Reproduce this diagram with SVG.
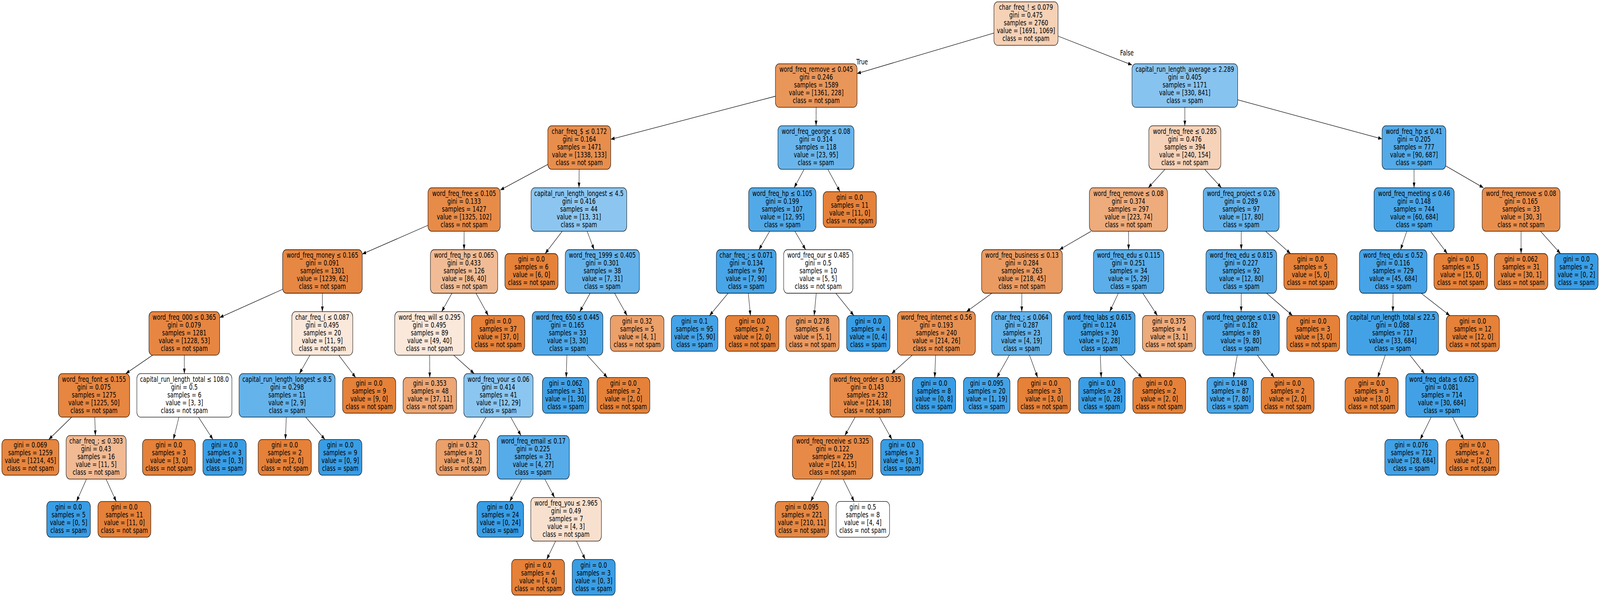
<svg xmlns="http://www.w3.org/2000/svg" width="5565" height="1529" viewBox="0 0 5565 1529" preserveAspectRatio="none">
<style>
svg{width:100vw;height:100vh}
.n rect{stroke:#000;stroke-width:1.3}
text{font-family:"DejaVu Sans","Liberation Sans",sans-serif;font-size:18.9px;text-anchor:middle;fill:#000}
#edges line{stroke:#000;stroke-width:1.3;marker-end:url(#arr)}
</style>
<defs>
<marker id="arr" markerUnits="userSpaceOnUse" viewBox="0 0 14 9.4" markerWidth="14" markerHeight="9.4" refX="13.3" refY="4.7" orient="auto">
<path d="M0,0 L13.3,4.7 L0,9.4 z" fill="#000"/>
</marker>
</defs>
<rect width="5565" height="1529" fill="#fff"/>
<g id="edges">
<line x1="3457" y1="84.7" x2="2981" y2="188.3"/>
<line x1="3680" y1="92.5" x2="3937.3" y2="166.4"/>
<line x1="2697" y1="246.5" x2="2124.3" y2="356.8"/>
<line x1="2838.6" y1="274.9" x2="2838.4" y2="322.1"/>
<line x1="1905.3" y1="421.2" x2="1740" y2="486.7"/>
<line x1="2014.3" y1="433.6" x2="2013.9" y2="480.8"/>
<line x1="1488.6" y1="577" x2="1260" y2="650.7"/>
<line x1="1614.2" y1="592.3" x2="1614.1" y2="639.5"/>
<line x1="983" y1="741" x2="764" y2="813.3"/>
<line x1="1121.3" y1="751" x2="1121.2" y2="798.2"/>
<line x1="530.7" y1="909.7" x2="437.3" y2="956.9"/>
<line x1="641.1" y1="909.7" x2="641.2" y2="956.9"/>
<line x1="249.3" y1="1068.4" x2="169.5" y2="1125.6"/>
<line x1="329.6" y1="1068.4" x2="331.8" y2="1115.6"/>
<line x1="300.7" y1="1227.1" x2="266.2" y2="1284.3"/>
<line x1="368.9" y1="1227.1" x2="404.3" y2="1284.3"/>
<line x1="622.4" y1="1068.4" x2="603.1" y2="1125.6"/>
<line x1="690.4" y1="1068.4" x2="740.7" y2="1125.6"/>
<line x1="1078" y1="909.7" x2="1041.5" y2="956.9"/>
<line x1="1178.3" y1="909.7" x2="1237" y2="966.9"/>
<line x1="995.7" y1="1068.4" x2="992.7" y2="1125.6"/>
<line x1="1063.5" y1="1068.4" x2="1130.1" y2="1125.6"/>
<line x1="1571.8" y1="751" x2="1536.2" y2="798.2"/>
<line x1="1655.6" y1="751" x2="1698.3" y2="808.2"/>
<line x1="1494.4" y1="909.7" x2="1494.7" y2="966.9"/>
<line x1="1578.2" y1="909.7" x2="1649.4" y2="956.9"/>
<line x1="1690" y1="1068.4" x2="1645.4" y2="1125.6"/>
<line x1="1776.2" y1="1068.4" x2="1812.2" y2="1115.6"/>
<line x1="1814.5" y1="1227.1" x2="1773.1" y2="1284.3"/>
<line x1="1894.9" y1="1227.1" x2="1928.9" y2="1274.3"/>
<line x1="1932.4" y1="1385.8" x2="1901.5" y2="1432.8"/>
<line x1="2005" y1="1385.8" x2="2035.4" y2="1432.8"/>
<line x1="1955.5" y1="592.3" x2="1896.1" y2="649.5"/>
<line x1="2042.1" y1="592.3" x2="2066.4" y2="639.5"/>
<line x1="2052.5" y1="751" x2="2016.5" y2="798.2"/>
<line x1="2137.5" y1="751" x2="2181.1" y2="808.2"/>
<line x1="1971.7" y1="909.7" x2="1969.4" y2="966.9"/>
<line x1="2042.3" y1="909.7" x2="2112.4" y2="966.9"/>
<line x1="2796.9" y1="433.6" x2="2762.1" y2="480.8"/>
<line x1="2879.3" y1="433.6" x2="2921.6" y2="490.8"/>
<line x1="2676.9" y1="592.3" x2="2639.6" y2="639.5"/>
<line x1="2764.9" y1="592.3" x2="2802.1" y2="639.5"/>
<line x1="2532.4" y1="751" x2="2467.8" y2="808.2"/>
<line x1="2602.7" y1="751" x2="2610.1" y2="808.2"/>
<line x1="2839" y1="751" x2="2831.8" y2="808.2"/>
<line x1="2907.1" y1="751" x2="2969.8" y2="808.2"/>
<line x1="4121" y1="274.9" x2="4121" y2="322.1"/>
<line x1="4304.8" y1="255.7" x2="4807" y2="355.8"/>
<line x1="4052.2" y1="433.6" x2="3993.9" y2="480.8"/>
<line x1="4189.9" y1="433.6" x2="4248.2" y2="480.8"/>
<line x1="3794.9" y1="592.3" x2="3684.7" y2="639.5"/>
<line x1="3925.2" y1="592.3" x2="3925.3" y2="639.5"/>
<line x1="3450" y1="751" x2="3361.5" y2="798.2"/>
<line x1="3554.1" y1="751" x2="3553.8" y2="798.2"/>
<line x1="3172.6" y1="909.7" x2="3101.1" y2="956.9"/>
<line x1="3254.1" y1="909.7" x2="3251.1" y2="966.9"/>
<line x1="2974.3" y1="1068.4" x2="2938.4" y2="1115.6"/>
<line x1="3059" y1="1068.4" x2="3102.3" y2="1125.6"/>
<line x1="2858.4" y1="1227.1" x2="2819.9" y2="1284.3"/>
<line x1="2932.9" y1="1227.1" x2="2970.7" y2="1284.3"/>
<line x1="3510.8" y1="909.7" x2="3467" y2="966.9"/>
<line x1="3580.9" y1="909.7" x2="3609.1" y2="966.9"/>
<line x1="3889.8" y1="751" x2="3859.7" y2="798.2"/>
<line x1="3974.9" y1="751" x2="4025.5" y2="808.2"/>
<line x1="3827" y1="909.7" x2="3830.1" y2="966.9"/>
<line x1="3897.1" y1="909.7" x2="3972" y2="966.9"/>
<line x1="4317.2" y1="592.3" x2="4317.3" y2="639.5"/>
<line x1="4401.7" y1="592.3" x2="4488.5" y2="649.5"/>
<line x1="4317.2" y1="751" x2="4316.9" y2="798.2"/>
<line x1="4405.3" y1="751" x2="4495.4" y2="808.2"/>
<line x1="4303.3" y1="909.7" x2="4289.8" y2="966.9"/>
<line x1="4373.4" y1="909.7" x2="4431.8" y2="966.9"/>
<line x1="4918.2" y1="433.6" x2="4918.3" y2="480.8"/>
<line x1="5029" y1="425.1" x2="5159.6" y2="480.8"/>
<line x1="4892.9" y1="592.3" x2="4871.3" y2="639.5"/>
<line x1="4975.4" y1="592.3" x2="5033.8" y2="649.5"/>
<line x1="4845.1" y1="751" x2="4844.6" y2="798.2"/>
<line x1="4942.9" y1="751" x2="5042.7" y2="808.2"/>
<line x1="4818.2" y1="909.7" x2="4791.8" y2="966.9"/>
<line x1="4904.1" y1="909.7" x2="4954.9" y2="956.9"/>
<line x1="4977.8" y1="1068.4" x2="4939.6" y2="1125.6"/>
<line x1="5052.4" y1="1068.4" x2="5090.8" y2="1125.6"/>
<line x1="5290.5" y1="592.3" x2="5290.5" y2="649.5"/>
<line x1="5358.1" y1="592.3" x2="5427.5" y2="649.5"/>
</g>
<g id="edge-labels">
<text x="2998.7" y="165">True</text>
<text x="3919.6" y="141.7">False</text>
</g>
<g id="n0" class="n"><rect x="3457" y="4.7" width="223" height="111.5" rx="13" fill="#f5d1b6"/><text y="25.45"><tspan x="3568.5">char_freq_! ≤ 0.079</tspan><tspan x="3568.5" dy="20">gini = 0.475</tspan><tspan x="3568.5" dy="20">samples = 2760</tspan><tspan x="3568.5" dy="20">value = [1691, 1069]</tspan><tspan x="3568.5" dy="20">class = not spam</tspan></text></g>
<g id="n1" class="n"><rect x="2697" y="163.4" width="284" height="111.5" rx="13" fill="#e9965a"/><text y="184.15"><tspan x="2839">word_freq_remove ≤ 0.045</tspan><tspan x="2839" dy="20">gini = 0.246</tspan><tspan x="2839" dy="20">samples = 1589</tspan><tspan x="2839" dy="20">value = [1361, 228]</tspan><tspan x="2839" dy="20">class = not spam</tspan></text></g>
<g id="n2" class="n"><rect x="1905.3" y="322.1" width="219" height="111.5" rx="13" fill="#e88e4d"/><text y="342.85"><tspan x="2014.8">char_freq_$ ≤ 0.172</tspan><tspan x="2014.8" dy="20">gini = 0.164</tspan><tspan x="2014.8" dy="20">samples = 1471</tspan><tspan x="2014.8" dy="20">value = [1338, 133]</tspan><tspan x="2014.8" dy="20">class = not spam</tspan></text></g>
<g id="n3" class="n"><rect x="1488.6" y="480.8" width="251.4" height="111.5" rx="13" fill="#e78b48"/><text y="501.55"><tspan x="1614.3">word_freq_free ≤ 0.105</tspan><tspan x="1614.3" dy="20">gini = 0.133</tspan><tspan x="1614.3" dy="20">samples = 1427</tspan><tspan x="1614.3" dy="20">value = [1325, 102]</tspan><tspan x="1614.3" dy="20">class = not spam</tspan></text></g>
<g id="n4" class="n"><rect x="983" y="639.5" width="277" height="111.5" rx="13" fill="#e68743"/><text y="660.25"><tspan x="1121.5">word_freq_money ≤ 0.165</tspan><tspan x="1121.5" dy="20">gini = 0.091</tspan><tspan x="1121.5" dy="20">samples = 1301</tspan><tspan x="1121.5" dy="20">value = [1239, 62]</tspan><tspan x="1121.5" dy="20">class = not spam</tspan></text></g>
<g id="n5" class="n"><rect x="518" y="798.2" width="246" height="111.5" rx="13" fill="#e68642"/><text y="818.95"><tspan x="641">word_freq_000 ≤ 0.365</tspan><tspan x="641" dy="20">gini = 0.079</tspan><tspan x="641" dy="20">samples = 1281</tspan><tspan x="641" dy="20">value = [1228, 53]</tspan><tspan x="641" dy="20">class = not spam</tspan></text></g>
<g id="n6" class="n"><rect x="203" y="956.9" width="248" height="111.5" rx="13" fill="#e68641"/><text y="977.65"><tspan x="327">word_freq_font ≤ 0.155</tspan><tspan x="327" dy="20">gini = 0.075</tspan><tspan x="327" dy="20">samples = 1275</tspan><tspan x="327" dy="20">value = [1225, 50]</tspan><tspan x="327" dy="20">class = not spam</tspan></text></g>
<g id="n7" class="n"><rect x="6.5" y="1125.6" width="198.4" height="91.5" rx="13" fill="#e68640"/><text y="1146.35"><tspan x="105.7">gini = 0.069</tspan><tspan x="105.7" dy="20">samples = 1259</tspan><tspan x="105.7" dy="20">value = [1214, 45]</tspan><tspan x="105.7" dy="20">class = not spam</tspan></text></g>
<g id="n8" class="n"><rect x="229.9" y="1115.6" width="209" height="111.5" rx="13" fill="#f1ba93"/><text y="1136.35"><tspan x="334.4">char_freq_; ≤ 0.303</tspan><tspan x="334.4" dy="20">gini = 0.43</tspan><tspan x="334.4" dy="20">samples = 16</tspan><tspan x="334.4" dy="20">value = [11, 5]</tspan><tspan x="334.4" dy="20">class = not spam</tspan></text></g>
<g id="n9" class="n"><rect x="162.6" y="1284.3" width="151.8" height="91.5" rx="13" fill="#399de5"/><text y="1305.05"><tspan x="238.5">gini = 0.0</tspan><tspan x="238.5" dy="20">samples = 5</tspan><tspan x="238.5" dy="20">value = [0, 5]</tspan><tspan x="238.5" dy="20">class = spam</tspan></text></g>
<g id="n10" class="n"><rect x="340.6" y="1284.3" width="184" height="91.5" rx="13" fill="#e58139"/><text y="1305.05"><tspan x="432.6">gini = 0.0</tspan><tspan x="432.6" dy="20">samples = 11</tspan><tspan x="432.6" dy="20">value = [11, 0]</tspan><tspan x="432.6" dy="20">class = not spam</tspan></text></g>
<g id="n11" class="n"><rect x="476" y="956.9" width="330.6" height="111.5" rx="13" fill="#ffffff"/><text y="977.65"><tspan x="641.3">capital_run_length_total ≤ 108.0</tspan><tspan x="641.3" dy="20">gini = 0.5</tspan><tspan x="641.3" dy="20">samples = 6</tspan><tspan x="641.3" dy="20">value = [3, 3]</tspan><tspan x="641.3" dy="20">class = not spam</tspan></text></g>
<g id="n12" class="n"><rect x="495.6" y="1125.6" width="184" height="91.5" rx="13" fill="#e58139"/><text y="1146.35"><tspan x="587.6">gini = 0.0</tspan><tspan x="587.6" dy="20">samples = 3</tspan><tspan x="587.6" dy="20">value = [3, 0]</tspan><tspan x="587.6" dy="20">class = not spam</tspan></text></g>
<g id="n13" class="n"><rect x="705.65" y="1125.6" width="150.7" height="91.5" rx="13" fill="#399de5"/><text y="1146.35"><tspan x="781">gini = 0.0</tspan><tspan x="781" dy="20">samples = 3</tspan><tspan x="781" dy="20">value = [0, 3]</tspan><tspan x="781" dy="20">class = spam</tspan></text></g>
<g id="n14" class="n"><rect x="1015" y="798.2" width="212" height="111.5" rx="13" fill="#fae8db"/><text y="818.95"><tspan x="1121">char_freq_( ≤ 0.087</tspan><tspan x="1121" dy="20">gini = 0.495</tspan><tspan x="1121" dy="20">samples = 20</tspan><tspan x="1121" dy="20">value = [11, 9]</tspan><tspan x="1121" dy="20">class = not spam</tspan></text></g>
<g id="n15" class="n"><rect x="831.5" y="956.9" width="334" height="111.5" rx="13" fill="#65b3eb"/><text y="977.65"><tspan x="998.5">capital_run_length_longest ≤ 8.5</tspan><tspan x="998.5" dy="20">gini = 0.298</tspan><tspan x="998.5" dy="20">samples = 11</tspan><tspan x="998.5" dy="20">value = [2, 9]</tspan><tspan x="998.5" dy="20">class = spam</tspan></text></g>
<g id="n16" class="n"><rect x="897.9" y="1125.6" width="185" height="91.5" rx="13" fill="#e58139"/><text y="1146.35"><tspan x="990.4">gini = 0.0</tspan><tspan x="990.4" dy="20">samples = 2</tspan><tspan x="990.4" dy="20">value = [2, 0]</tspan><tspan x="990.4" dy="20">class = not spam</tspan></text></g>
<g id="n17" class="n"><rect x="1108.05" y="1125.6" width="150.7" height="91.5" rx="13" fill="#399de5"/><text y="1146.35"><tspan x="1183.4">gini = 0.0</tspan><tspan x="1183.4" dy="20">samples = 9</tspan><tspan x="1183.4" dy="20">value = [0, 9]</tspan><tspan x="1183.4" dy="20">class = spam</tspan></text></g>
<g id="n18" class="n"><rect x="1191.5" y="966.9" width="185" height="91.5" rx="13" fill="#e58139"/><text y="987.65"><tspan x="1284">gini = 0.0</tspan><tspan x="1284" dy="20">samples = 9</tspan><tspan x="1284" dy="20">value = [9, 0]</tspan><tspan x="1284" dy="20">class = not spam</tspan></text></g>
<g id="n19" class="n"><rect x="1497" y="639.5" width="234" height="111.5" rx="13" fill="#f1bc95"/><text y="660.25"><tspan x="1614">word_freq_hp ≤ 0.065</tspan><tspan x="1614" dy="20">gini = 0.433</tspan><tspan x="1614" dy="20">samples = 126</tspan><tspan x="1614" dy="20">value = [86, 40]</tspan><tspan x="1614" dy="20">class = not spam</tspan></text></g>
<g id="n20" class="n"><rect x="1373" y="798.2" width="242" height="111.5" rx="13" fill="#fae8db"/><text y="818.95"><tspan x="1494">word_freq_will ≤ 0.295</tspan><tspan x="1494" dy="20">gini = 0.495</tspan><tspan x="1494" dy="20">samples = 89</tspan><tspan x="1494" dy="20">value = [49, 40]</tspan><tspan x="1494" dy="20">class = not spam</tspan></text></g>
<g id="n21" class="n"><rect x="1402" y="966.9" width="186" height="91.5" rx="13" fill="#eda674"/><text y="987.65"><tspan x="1495">gini = 0.353</tspan><tspan x="1495" dy="20">samples = 48</tspan><tspan x="1495" dy="20">value = [37, 11]</tspan><tspan x="1495" dy="20">class = not spam</tspan></text></g>
<g id="n22" class="n"><rect x="1613.1" y="956.9" width="241" height="111.5" rx="13" fill="#8bc6f0"/><text y="977.65"><tspan x="1733.6">word_freq_your ≤ 0.06</tspan><tspan x="1733.6" dy="20">gini = 0.414</tspan><tspan x="1733.6" dy="20">samples = 41</tspan><tspan x="1733.6" dy="20">value = [12, 29]</tspan><tspan x="1733.6" dy="20">class = spam</tspan></text></g>
<g id="n23" class="n"><rect x="1516.6" y="1125.6" width="186" height="91.5" rx="13" fill="#eca06a"/><text y="1146.35"><tspan x="1609.6">gini = 0.32</tspan><tspan x="1609.6" dy="20">samples = 10</tspan><tspan x="1609.6" dy="20">value = [8, 2]</tspan><tspan x="1609.6" dy="20">class = not spam</tspan></text></g>
<g id="n24" class="n"><rect x="1729.3" y="1115.6" width="251" height="111.5" rx="13" fill="#56abe9"/><text y="1136.35"><tspan x="1854.8">word_freq_email ≤ 0.17</tspan><tspan x="1854.8" dy="20">gini = 0.225</tspan><tspan x="1854.8" dy="20">samples = 31</tspan><tspan x="1854.8" dy="20">value = [4, 27]</tspan><tspan x="1854.8" dy="20">class = spam</tspan></text></g>
<g id="n25" class="n"><rect x="1659" y="1284.3" width="162" height="91.5" rx="13" fill="#399de5"/><text y="1305.05"><tspan x="1740">gini = 0.0</tspan><tspan x="1740" dy="20">samples = 24</tspan><tspan x="1740" dy="20">value = [0, 24]</tspan><tspan x="1740" dy="20">class = spam</tspan></text></g>
<g id="n26" class="n"><rect x="1846.2" y="1274.3" width="245.6" height="111.5" rx="13" fill="#f8e0ce"/><text y="1295.05"><tspan x="1969">word_freq_you ≤ 2.965</tspan><tspan x="1969" dy="20">gini = 0.49</tspan><tspan x="1969" dy="20">samples = 7</tspan><tspan x="1969" dy="20">value = [4, 3]</tspan><tspan x="1969" dy="20">class = not spam</tspan></text></g>
<g id="n27" class="n"><rect x="1779.5" y="1432.8" width="184" height="91.5" rx="13" fill="#e58139"/><text y="1453.55"><tspan x="1871.5">gini = 0.0</tspan><tspan x="1871.5" dy="20">samples = 4</tspan><tspan x="1871.5" dy="20">value = [4, 0]</tspan><tspan x="1871.5" dy="20">class = not spam</tspan></text></g>
<g id="n28" class="n"><rect x="1990.2" y="1432.8" width="149.6" height="91.5" rx="13" fill="#399de5"/><text y="1453.55"><tspan x="2065">gini = 0.0</tspan><tspan x="2065" dy="20">samples = 3</tspan><tspan x="2065" dy="20">value = [0, 3]</tspan><tspan x="2065" dy="20">class = spam</tspan></text></g>
<g id="n29" class="n"><rect x="1640" y="808.2" width="185" height="91.5" rx="13" fill="#e58139"/><text y="828.95"><tspan x="1732.5">gini = 0.0</tspan><tspan x="1732.5" dy="20">samples = 37</tspan><tspan x="1732.5" dy="20">value = [37, 0]</tspan><tspan x="1732.5" dy="20">class = not spam</tspan></text></g>
<g id="n30" class="n"><rect x="1847" y="480.8" width="333" height="111.5" rx="13" fill="#8cc6f0"/><text y="501.55"><tspan x="2013.5">capital_run_length_longest ≤ 4.5</tspan><tspan x="2013.5" dy="20">gini = 0.416</tspan><tspan x="2013.5" dy="20">samples = 44</tspan><tspan x="2013.5" dy="20">value = [13, 31]</tspan><tspan x="2013.5" dy="20">class = spam</tspan></text></g>
<g id="n31" class="n"><rect x="1756" y="649.5" width="185" height="91.5" rx="13" fill="#e58139"/><text y="670.25"><tspan x="1848.5">gini = 0.0</tspan><tspan x="1848.5" dy="20">samples = 6</tspan><tspan x="1848.5" dy="20">value = [6, 0]</tspan><tspan x="1848.5" dy="20">class = not spam</tspan></text></g>
<g id="n32" class="n"><rect x="1966" y="639.5" width="258" height="111.5" rx="13" fill="#66b3eb"/><text y="660.25"><tspan x="2095">word_freq_1999 ≤ 0.405</tspan><tspan x="2095" dy="20">gini = 0.301</tspan><tspan x="2095" dy="20">samples = 38</tspan><tspan x="2095" dy="20">value = [7, 31]</tspan><tspan x="2095" dy="20">class = spam</tspan></text></g>
<g id="n33" class="n"><rect x="1851" y="798.2" width="246" height="111.5" rx="13" fill="#4da7e8"/><text y="818.95"><tspan x="1974">word_freq_650 ≤ 0.445</tspan><tspan x="1974" dy="20">gini = 0.165</tspan><tspan x="1974" dy="20">samples = 33</tspan><tspan x="1974" dy="20">value = [3, 30]</tspan><tspan x="1974" dy="20">class = spam</tspan></text></g>
<g id="n34" class="n"><rect x="1886.5" y="966.9" width="162" height="91.5" rx="13" fill="#40a0e6"/><text y="987.65"><tspan x="1967.5">gini = 0.062</tspan><tspan x="1967.5" dy="20">samples = 31</tspan><tspan x="1967.5" dy="20">value = [1, 30]</tspan><tspan x="1967.5" dy="20">class = spam</tspan></text></g>
<g id="n35" class="n"><rect x="2076.4" y="966.9" width="184" height="91.5" rx="13" fill="#e58139"/><text y="987.65"><tspan x="2168.4">gini = 0.0</tspan><tspan x="2168.4" dy="20">samples = 2</tspan><tspan x="2168.4" dy="20">value = [2, 0]</tspan><tspan x="2168.4" dy="20">class = not spam</tspan></text></g>
<g id="n36" class="n"><rect x="2122.65" y="808.2" width="186.7" height="91.5" rx="13" fill="#eca06a"/><text y="828.95"><tspan x="2216">gini = 0.32</tspan><tspan x="2216" dy="20">samples = 5</tspan><tspan x="2216" dy="20">value = [4, 1]</tspan><tspan x="2216" dy="20">class = not spam</tspan></text></g>
<g id="n37" class="n"><rect x="2705.7" y="322.1" width="264.6" height="111.5" rx="13" fill="#69b5eb"/><text y="342.85"><tspan x="2838">word_freq_george ≤ 0.08</tspan><tspan x="2838" dy="20">gini = 0.314</tspan><tspan x="2838" dy="20">samples = 118</tspan><tspan x="2838" dy="20">value = [23, 95]</tspan><tspan x="2838" dy="20">class = spam</tspan></text></g>
<g id="n38" class="n"><rect x="2604" y="480.8" width="234" height="111.5" rx="13" fill="#52a9e8"/><text y="501.55"><tspan x="2721">word_freq_hp ≤ 0.105</tspan><tspan x="2721" dy="20">gini = 0.199</tspan><tspan x="2721" dy="20">samples = 107</tspan><tspan x="2721" dy="20">value = [12, 95]</tspan><tspan x="2721" dy="20">class = spam</tspan></text></g>
<g id="n39" class="n"><rect x="2491.5" y="639.5" width="208" height="111.5" rx="13" fill="#48a5e7"/><text y="660.25"><tspan x="2595.5">char_freq_; ≤ 0.071</tspan><tspan x="2595.5" dy="20">gini = 0.134</tspan><tspan x="2595.5" dy="20">samples = 97</tspan><tspan x="2595.5" dy="20">value = [7, 90]</tspan><tspan x="2595.5" dy="20">class = spam</tspan></text></g>
<g id="n40" class="n"><rect x="2335" y="808.2" width="162" height="91.5" rx="13" fill="#44a2e6"/><text y="828.95"><tspan x="2416">gini = 0.1</tspan><tspan x="2416" dy="20">samples = 95</tspan><tspan x="2416" dy="20">value = [5, 90]</tspan><tspan x="2416" dy="20">class = spam</tspan></text></g>
<g id="n41" class="n"><rect x="2523" y="808.2" width="186" height="91.5" rx="13" fill="#e58139"/><text y="828.95"><tspan x="2616">gini = 0.0</tspan><tspan x="2616" dy="20">samples = 2</tspan><tspan x="2616" dy="20">value = [2, 0]</tspan><tspan x="2616" dy="20">class = not spam</tspan></text></g>
<g id="n42" class="n"><rect x="2725.65" y="639.5" width="240.7" height="111.5" rx="13" fill="#ffffff"/><text y="660.25"><tspan x="2846">word_freq_our ≤ 0.485</tspan><tspan x="2846" dy="20">gini = 0.5</tspan><tspan x="2846" dy="20">samples = 10</tspan><tspan x="2846" dy="20">value = [5, 5]</tspan><tspan x="2846" dy="20">class = not spam</tspan></text></g>
<g id="n43" class="n"><rect x="2733.5" y="808.2" width="185" height="91.5" rx="13" fill="#ea9a61"/><text y="828.95"><tspan x="2826">gini = 0.278</tspan><tspan x="2826" dy="20">samples = 6</tspan><tspan x="2826" dy="20">value = [5, 1]</tspan><tspan x="2826" dy="20">class = not spam</tspan></text></g>
<g id="n44" class="n"><rect x="2944.5" y="808.2" width="151" height="91.5" rx="13" fill="#399de5"/><text y="828.95"><tspan x="3020">gini = 0.0</tspan><tspan x="3020" dy="20">samples = 4</tspan><tspan x="3020" dy="20">value = [0, 4]</tspan><tspan x="3020" dy="20">class = spam</tspan></text></g>
<g id="n45" class="n"><rect x="2863" y="490.8" width="185" height="91.5" rx="13" fill="#e58139"/><text y="511.55"><tspan x="2955.5">gini = 0.0</tspan><tspan x="2955.5" dy="20">samples = 11</tspan><tspan x="2955.5" dy="20">value = [11, 0]</tspan><tspan x="2955.5" dy="20">class = not spam</tspan></text></g>
<g id="n46" class="n"><rect x="3937.25" y="163.4" width="367.5" height="111.5" rx="13" fill="#87c3ef"/><text y="184.15"><tspan x="4121">capital_run_length_average ≤ 2.289</tspan><tspan x="4121" dy="20">gini = 0.405</tspan><tspan x="4121" dy="20">samples = 1171</tspan><tspan x="4121" dy="20">value = [330, 841]</tspan><tspan x="4121" dy="20">class = spam</tspan></text></g>
<g id="n47" class="n"><rect x="3995.75" y="322.1" width="250.5" height="111.5" rx="13" fill="#f6d2b8"/><text y="342.85"><tspan x="4121">word_freq_free ≤ 0.285</tspan><tspan x="4121" dy="20">gini = 0.476</tspan><tspan x="4121" dy="20">samples = 394</tspan><tspan x="4121" dy="20">value = [240, 154]</tspan><tspan x="4121" dy="20">class = not spam</tspan></text></g>
<g id="n48" class="n"><rect x="3789" y="480.8" width="272" height="111.5" rx="13" fill="#eeab7b"/><text y="501.55"><tspan x="3925">word_freq_remove ≤ 0.08</tspan><tspan x="3925" dy="20">gini = 0.374</tspan><tspan x="3925" dy="20">samples = 297</tspan><tspan x="3925" dy="20">value = [223, 74]</tspan><tspan x="3925" dy="20">class = not spam</tspan></text></g>
<g id="n49" class="n"><rect x="3414" y="639.5" width="281" height="111.5" rx="13" fill="#ea9b62"/><text y="660.25"><tspan x="3554.5">word_freq_business ≤ 0.13</tspan><tspan x="3554.5" dy="20">gini = 0.284</tspan><tspan x="3554.5" dy="20">samples = 263</tspan><tspan x="3554.5" dy="20">value = [218, 45]</tspan><tspan x="3554.5" dy="20">class = not spam</tspan></text></g>
<g id="n50" class="n"><rect x="3121.5" y="798.2" width="271" height="111.5" rx="13" fill="#e89051"/><text y="818.95"><tspan x="3257">word_freq_internet ≤ 0.56</tspan><tspan x="3257" dy="20">gini = 0.193</tspan><tspan x="3257" dy="20">samples = 240</tspan><tspan x="3257" dy="20">value = [214, 26]</tspan><tspan x="3257" dy="20">class = not spam</tspan></text></g>
<g id="n51" class="n"><rect x="2886.7" y="956.9" width="260" height="111.5" rx="13" fill="#e78c4a"/><text y="977.65"><tspan x="3016.7">word_freq_order ≤ 0.335</tspan><tspan x="3016.7" dy="20">gini = 0.143</tspan><tspan x="3016.7" dy="20">samples = 232</tspan><tspan x="3016.7" dy="20">value = [214, 18]</tspan><tspan x="3016.7" dy="20">class = not spam</tspan></text></g>
<g id="n52" class="n"><rect x="2756" y="1115.6" width="280" height="111.5" rx="13" fill="#e78a47"/><text y="1136.35"><tspan x="2896">word_freq_receive ≤ 0.325</tspan><tspan x="2896" dy="20">gini = 0.122</tspan><tspan x="2896" dy="20">samples = 229</tspan><tspan x="2896" dy="20">value = [214, 15]</tspan><tspan x="2896" dy="20">class = not spam</tspan></text></g>
<g id="n53" class="n"><rect x="2696" y="1284.3" width="186" height="91.5" rx="13" fill="#e68843"/><text y="1305.05"><tspan x="2789">gini = 0.095</tspan><tspan x="2789" dy="20">samples = 221</tspan><tspan x="2789" dy="20">value = [210, 11]</tspan><tspan x="2789" dy="20">class = not spam</tspan></text></g>
<g id="n54" class="n"><rect x="2908" y="1284.3" width="186" height="91.5" rx="13" fill="#ffffff"/><text y="1305.05"><tspan x="3001">gini = 0.5</tspan><tspan x="3001" dy="20">samples = 8</tspan><tspan x="3001" dy="20">value = [4, 4]</tspan><tspan x="3001" dy="20">class = not spam</tspan></text></g>
<g id="n55" class="n"><rect x="3063" y="1125.6" width="148" height="91.5" rx="13" fill="#399de5"/><text y="1146.35"><tspan x="3137">gini = 0.0</tspan><tspan x="3137" dy="20">samples = 3</tspan><tspan x="3137" dy="20">value = [0, 3]</tspan><tspan x="3137" dy="20">class = spam</tspan></text></g>
<g id="n56" class="n"><rect x="3173.4" y="966.9" width="150.6" height="91.5" rx="13" fill="#399de5"/><text y="987.65"><tspan x="3248.7">gini = 0.0</tspan><tspan x="3248.7" dy="20">samples = 8</tspan><tspan x="3248.7" dy="20">value = [0, 8]</tspan><tspan x="3248.7" dy="20">class = spam</tspan></text></g>
<g id="n57" class="n"><rect x="3448.9" y="798.2" width="209" height="111.5" rx="13" fill="#63b2ea"/><text y="818.95"><tspan x="3553.4">char_freq_; ≤ 0.064</tspan><tspan x="3553.4" dy="20">gini = 0.287</tspan><tspan x="3553.4" dy="20">samples = 23</tspan><tspan x="3553.4" dy="20">value = [4, 19]</tspan><tspan x="3553.4" dy="20">class = spam</tspan></text></g>
<g id="n58" class="n"><rect x="3351" y="966.9" width="162" height="91.5" rx="13" fill="#43a2e6"/><text y="987.65"><tspan x="3432">gini = 0.095</tspan><tspan x="3432" dy="20">samples = 20</tspan><tspan x="3432" dy="20">value = [1, 19]</tspan><tspan x="3432" dy="20">class = spam</tspan></text></g>
<g id="n59" class="n"><rect x="3539.6" y="966.9" width="184" height="91.5" rx="13" fill="#e58139"/><text y="987.65"><tspan x="3631.6">gini = 0.0</tspan><tspan x="3631.6" dy="20">samples = 3</tspan><tspan x="3631.6" dy="20">value = [3, 0]</tspan><tspan x="3631.6" dy="20">class = not spam</tspan></text></g>
<g id="n60" class="n"><rect x="3803" y="639.5" width="245" height="111.5" rx="13" fill="#5baee9"/><text y="660.25"><tspan x="3925.5">word_freq_edu ≤ 0.115</tspan><tspan x="3925.5" dy="20">gini = 0.251</tspan><tspan x="3925.5" dy="20">samples = 34</tspan><tspan x="3925.5" dy="20">value = [5, 29]</tspan><tspan x="3925.5" dy="20">class = spam</tspan></text></g>
<g id="n61" class="n"><rect x="3700" y="798.2" width="248" height="111.5" rx="13" fill="#47a4e7"/><text y="818.95"><tspan x="3824">word_freq_labs ≤ 0.615</tspan><tspan x="3824" dy="20">gini = 0.124</tspan><tspan x="3824" dy="20">samples = 30</tspan><tspan x="3824" dy="20">value = [2, 28]</tspan><tspan x="3824" dy="20">class = spam</tspan></text></g>
<g id="n62" class="n"><rect x="3751.5" y="966.9" width="162" height="91.5" rx="13" fill="#399de5"/><text y="987.65"><tspan x="3832.5">gini = 0.0</tspan><tspan x="3832.5" dy="20">samples = 28</tspan><tspan x="3832.5" dy="20">value = [0, 28]</tspan><tspan x="3832.5" dy="20">class = spam</tspan></text></g>
<g id="n63" class="n"><rect x="3940" y="966.9" width="184" height="91.5" rx="13" fill="#e58139"/><text y="987.65"><tspan x="4032">gini = 0.0</tspan><tspan x="4032" dy="20">samples = 2</tspan><tspan x="4032" dy="20">value = [2, 0]</tspan><tspan x="4032" dy="20">class = not spam</tspan></text></g>
<g id="n64" class="n"><rect x="3973.5" y="808.2" width="185" height="91.5" rx="13" fill="#eeab7b"/><text y="828.95"><tspan x="4066">gini = 0.375</tspan><tspan x="4066" dy="20">samples = 4</tspan><tspan x="4066" dy="20">value = [3, 1]</tspan><tspan x="4066" dy="20">class = not spam</tspan></text></g>
<g id="n65" class="n"><rect x="4185" y="480.8" width="264" height="111.5" rx="13" fill="#63b2eb"/><text y="501.55"><tspan x="4317">word_freq_project ≤ 0.26</tspan><tspan x="4317" dy="20">gini = 0.289</tspan><tspan x="4317" dy="20">samples = 97</tspan><tspan x="4317" dy="20">value = [17, 80]</tspan><tspan x="4317" dy="20">class = spam</tspan></text></g>
<g id="n66" class="n"><rect x="4194.5" y="639.5" width="246" height="111.5" rx="13" fill="#57ace9"/><text y="660.25"><tspan x="4317.5">word_freq_edu ≤ 0.815</tspan><tspan x="4317.5" dy="20">gini = 0.227</tspan><tspan x="4317.5" dy="20">samples = 92</tspan><tspan x="4317.5" dy="20">value = [12, 80]</tspan><tspan x="4317.5" dy="20">class = spam</tspan></text></g>
<g id="n67" class="n"><rect x="4183.5" y="798.2" width="266" height="111.5" rx="13" fill="#4fa8e8"/><text y="818.95"><tspan x="4316.5">word_freq_george ≤ 0.19</tspan><tspan x="4316.5" dy="20">gini = 0.182</tspan><tspan x="4316.5" dy="20">samples = 89</tspan><tspan x="4316.5" dy="20">value = [9, 80]</tspan><tspan x="4316.5" dy="20">class = spam</tspan></text></g>
<g id="n68" class="n"><rect x="4198" y="966.9" width="162" height="91.5" rx="13" fill="#4aa6e7"/><text y="987.65"><tspan x="4279">gini = 0.148</tspan><tspan x="4279" dy="20">samples = 87</tspan><tspan x="4279" dy="20">value = [7, 80]</tspan><tspan x="4279" dy="20">class = spam</tspan></text></g>
<g id="n69" class="n"><rect x="4386.5" y="966.9" width="184" height="91.5" rx="13" fill="#e58139"/><text y="987.65"><tspan x="4478.5">gini = 0.0</tspan><tspan x="4478.5" dy="20">samples = 2</tspan><tspan x="4478.5" dy="20">value = [2, 0]</tspan><tspan x="4478.5" dy="20">class = not spam</tspan></text></g>
<g id="n70" class="n"><rect x="4475.5" y="808.2" width="184" height="91.5" rx="13" fill="#e58139"/><text y="828.95"><tspan x="4567.5">gini = 0.0</tspan><tspan x="4567.5" dy="20">samples = 3</tspan><tspan x="4567.5" dy="20">value = [3, 0]</tspan><tspan x="4567.5" dy="20">class = not spam</tspan></text></g>
<g id="n71" class="n"><rect x="4465.5" y="649.5" width="185" height="91.5" rx="13" fill="#e58139"/><text y="670.25"><tspan x="4558">gini = 0.0</tspan><tspan x="4558" dy="20">samples = 5</tspan><tspan x="4558" dy="20">value = [5, 0]</tspan><tspan x="4558" dy="20">class = not spam</tspan></text></g>
<g id="n72" class="n"><rect x="4807" y="322.1" width="222" height="111.5" rx="13" fill="#53aae8"/><text y="342.85"><tspan x="4918">word_freq_hp ≤ 0.41</tspan><tspan x="4918" dy="20">gini = 0.205</tspan><tspan x="4918" dy="20">samples = 777</tspan><tspan x="4918" dy="20">value = [90, 687]</tspan><tspan x="4918" dy="20">class = spam</tspan></text></g>
<g id="n73" class="n"><rect x="4779" y="480.8" width="279" height="111.5" rx="13" fill="#4aa6e7"/><text y="501.55"><tspan x="4918.5">word_freq_meeting ≤ 0.46</tspan><tspan x="4918.5" dy="20">gini = 0.148</tspan><tspan x="4918.5" dy="20">samples = 744</tspan><tspan x="4918.5" dy="20">value = [60, 684]</tspan><tspan x="4918.5" dy="20">class = spam</tspan></text></g>
<g id="n74" class="n"><rect x="4728.2" y="639.5" width="235" height="111.5" rx="13" fill="#46a3e7"/><text y="660.25"><tspan x="4845.7">word_freq_edu ≤ 0.52</tspan><tspan x="4845.7" dy="20">gini = 0.116</tspan><tspan x="4845.7" dy="20">samples = 729</tspan><tspan x="4845.7" dy="20">value = [45, 684]</tspan><tspan x="4845.7" dy="20">class = spam</tspan></text></g>
<g id="n75" class="n"><rect x="4684.5" y="798.2" width="319" height="111.5" rx="13" fill="#43a2e6"/><text y="818.95"><tspan x="4844">capital_run_length_total ≤ 22.5</tspan><tspan x="4844" dy="20">gini = 0.088</tspan><tspan x="4844" dy="20">samples = 717</tspan><tspan x="4844" dy="20">value = [33, 684]</tspan><tspan x="4844" dy="20">class = spam</tspan></text></g>
<g id="n76" class="n"><rect x="4678.1" y="966.9" width="185" height="91.5" rx="13" fill="#e58139"/><text y="987.65"><tspan x="4770.6">gini = 0.0</tspan><tspan x="4770.6" dy="20">samples = 3</tspan><tspan x="4770.6" dy="20">value = [3, 0]</tspan><tspan x="4770.6" dy="20">class = not spam</tspan></text></g>
<g id="n77" class="n"><rect x="4889.5" y="956.9" width="251" height="111.5" rx="13" fill="#42a1e6"/><text y="977.65"><tspan x="5015">word_freq_data ≤ 0.625</tspan><tspan x="5015" dy="20">gini = 0.081</tspan><tspan x="5015" dy="20">samples = 714</tspan><tspan x="5015" dy="20">value = [30, 684]</tspan><tspan x="5015" dy="20">class = spam</tspan></text></g>
<g id="n78" class="n"><rect x="4816.5" y="1125.6" width="185" height="91.5" rx="13" fill="#41a1e6"/><text y="1146.35"><tspan x="4909">gini = 0.076</tspan><tspan x="4909" dy="20">samples = 712</tspan><tspan x="4909" dy="20">value = [28, 684]</tspan><tspan x="4909" dy="20">class = spam</tspan></text></g>
<g id="n79" class="n"><rect x="5029.5" y="1125.6" width="184" height="91.5" rx="13" fill="#e58139"/><text y="1146.35"><tspan x="5121.5">gini = 0.0</tspan><tspan x="5121.5" dy="20">samples = 2</tspan><tspan x="5121.5" dy="20">value = [2, 0]</tspan><tspan x="5121.5" dy="20">class = not spam</tspan></text></g>
<g id="n80" class="n"><rect x="5030" y="808.2" width="185" height="91.5" rx="13" fill="#e58139"/><text y="828.95"><tspan x="5122.5">gini = 0.0</tspan><tspan x="5122.5" dy="20">samples = 12</tspan><tspan x="5122.5" dy="20">value = [12, 0]</tspan><tspan x="5122.5" dy="20">class = not spam</tspan></text></g>
<g id="n81" class="n"><rect x="4987.5" y="649.5" width="186" height="91.5" rx="13" fill="#e58139"/><text y="670.25"><tspan x="5080.5">gini = 0.0</tspan><tspan x="5080.5" dy="20">samples = 15</tspan><tspan x="5080.5" dy="20">value = [15, 0]</tspan><tspan x="5080.5" dy="20">class = not spam</tspan></text></g>
<g id="n82" class="n"><rect x="5155" y="480.8" width="271" height="111.5" rx="13" fill="#e88e4d"/><text y="501.55"><tspan x="5290.5">word_freq_remove ≤ 0.08</tspan><tspan x="5290.5" dy="20">gini = 0.165</tspan><tspan x="5290.5" dy="20">samples = 33</tspan><tspan x="5290.5" dy="20">value = [30, 3]</tspan><tspan x="5290.5" dy="20">class = not spam</tspan></text></g>
<g id="n83" class="n"><rect x="5197.5" y="649.5" width="186" height="91.5" rx="13" fill="#e68540"/><text y="670.25"><tspan x="5290.5">gini = 0.062</tspan><tspan x="5290.5" dy="20">samples = 31</tspan><tspan x="5290.5" dy="20">value = [30, 1]</tspan><tspan x="5290.5" dy="20">class = not spam</tspan></text></g>
<g id="n84" class="n"><rect x="5407.5" y="649.5" width="151" height="91.5" rx="13" fill="#399de5"/><text y="670.25"><tspan x="5483">gini = 0.0</tspan><tspan x="5483" dy="20">samples = 2</tspan><tspan x="5483" dy="20">value = [0, 2]</tspan><tspan x="5483" dy="20">class = spam</tspan></text></g>
</svg>
